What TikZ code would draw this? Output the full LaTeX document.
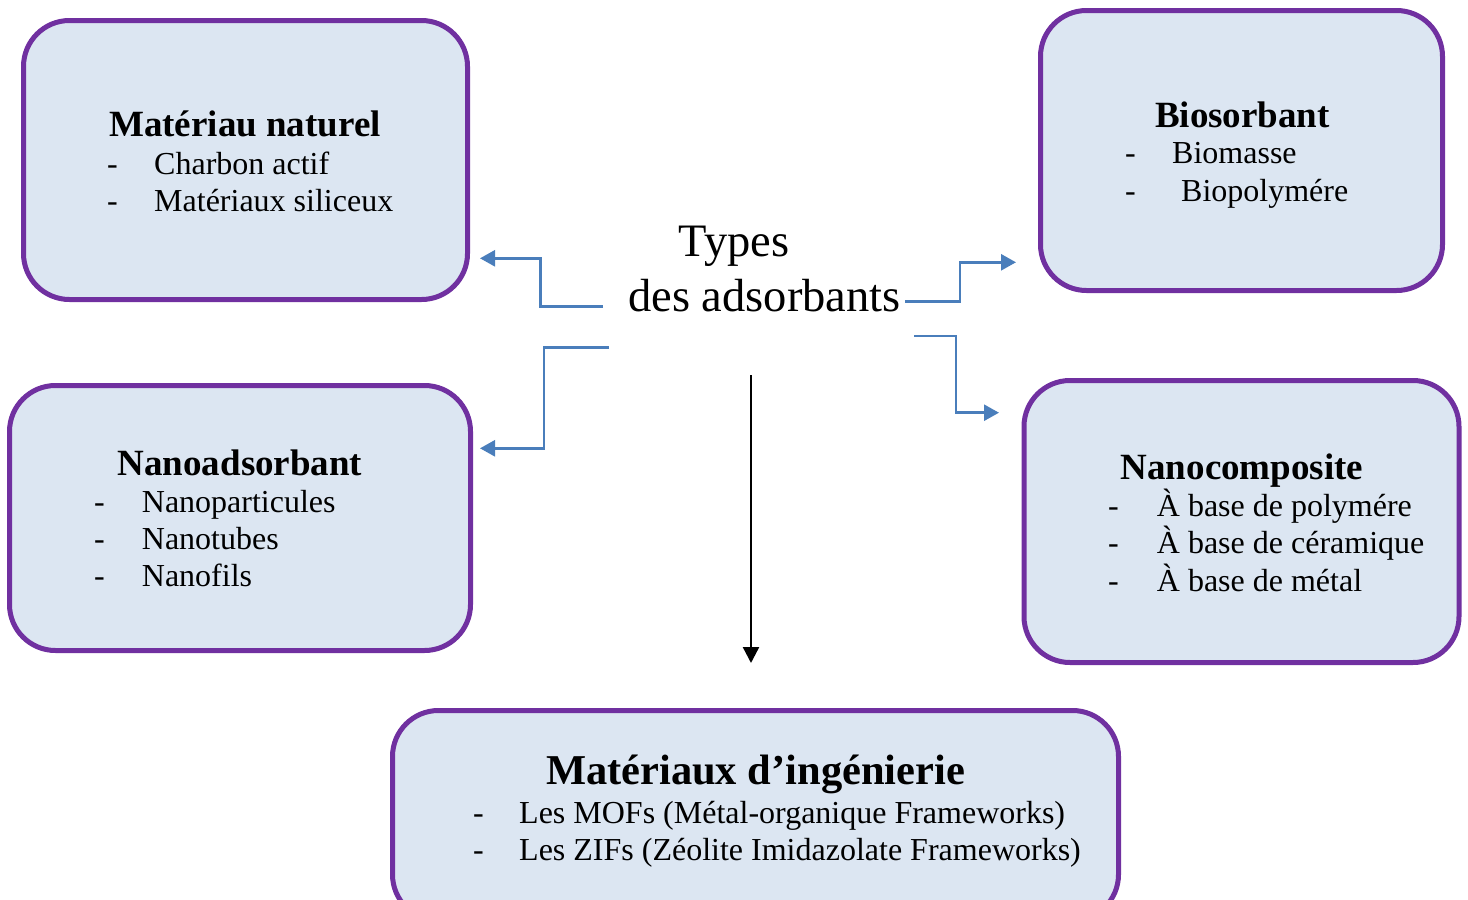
\documentclass[tikz,border=0pt]{standalone}
\usepackage{fontspec}
\setmainfont{Liberation Serif}
\usetikzlibrary{arrows.meta}
\definecolor{boxfill}{HTML}{DCE6F2}
\definecolor{boxline}{HTML}{7030A0}
\definecolor{conncol}{HTML}{4A7EBB}
\tikzset{
  box/.style={draw=boxline, fill=boxfill, line width=5pt, rounded corners=46pt, rectangle, inner sep=0pt},
  ttl/.style={anchor=base, inner sep=0pt, font=\bfseries\fontsize{37}{44}\selectfont},
  bigttl/.style={anchor=base, inner sep=0pt, font=\bfseries\fontsize{42.5}{50}\selectfont},
  itm/.style={anchor=base west, inner sep=0pt, font=\fontsize{32}{38}\selectfont},
  ctr/.style={anchor=base, inner sep=0pt, font=\fontsize{46.5}{55}\selectfont},
  conn/.style={draw=conncol, line width=2.6pt, -{Triangle[length=15pt,width=16pt]}},
  blk/.style={draw=black, line width=2.4pt, -{Triangle[length=16pt,width=16pt]}}
}
\begin{document}
\begin{tikzpicture}[x=1pt,y=-1pt]
\useasboundingbox (0,0) rectangle (1468,900);
\begin{scope}
\clip (0,0) rectangle (1468,900);
% boxes
\node[box, minimum width=444pt, minimum height=279pt] (nat) at (245.5,160) {};
\node[box, minimum width=402pt, minimum height=280pt] (bio) at (1241.5,150.5) {};
\node[box, minimum width=461pt, minimum height=265pt] (nad) at (240,518) {};
\node[box, minimum width=435pt, minimum height=282pt] (ncp) at (1241.5,521.5) {};
\node[box, minimum width=726pt, minimum height=210pt] (ing) at (755.5,815.5) {};
\end{scope}
% Matériau naturel
\node[ttl] (natt) at (245,136) {Matériau naturel};
\node[itm] (natd1) at (107,174) {-};
\node[itm] (nati1) at (154,174) {Charbon actif};
\node[itm] (natd2) at (107,211.7) {-};
\node[itm] (nati2) at (154,211.7) {Matériaux siliceux};
% Biosorbant
\node[ttl] (biot) at (1242.5,127) {Biosorbant};
\node[itm] (biod1) at (1125,163.3) {-};
\node[itm] (bioi1) at (1172,163.3) {Biomasse};
\node[itm] (biod2) at (1125,201.7) {-};
\node[itm] (bioi2) at (1181,201.7) {Biopolymére};
% Nanoadsorbant
\node[ttl] (nadt) at (240,475) {Nanoadsorbant};
\node[itm] (nadd1) at (94,512.7) {-};
\node[itm] (nadi1) at (141.7,512.7) {Nanoparticules};
\node[itm] (nadd2) at (94,549.3) {-};
\node[itm] (nadi2) at (141.7,549.3) {Nanotubes};
\node[itm] (nadd3) at (94,586.7) {-};
\node[itm] (nadi3) at (141.7,586.7) {Nanofils};
% Nanocomposite
\node[ttl] (ncpt) at (1242,479.5) {Nanocomposite};
\node[itm] (ncpd1) at (1108,516.7) {-};
\node[itm] (ncpi1) at (1156.7,516.7) {À base de polymére};
\node[itm] (ncpd2) at (1108,553.3) {-};
\node[itm] (ncpi2) at (1156.7,553.3) {À base de céramique};
\node[itm] (ncpd3) at (1108,591.7) {-};
\node[itm] (ncpi3) at (1156.7,591.7) {À base de métal};
% Matériaux d'ingénierie
\node[bigttl] (ingt) at (755.5,784) {Matériaux d’ingénierie};
\node[itm] (ingd1) at (473,823) {-};
\node[itm] (ingi1) at (519,823) {Les MOFs (Métal-organique Frameworks)};
\node[itm] (ingd2) at (473,860) {-};
\node[itm] (ingi2) at (519,860) {Les ZIFs (Zéolite Imidazolate Frameworks)};
% centre
\node[ctr] (types1) at (734,256.5) {Types};
\node[ctr] (types2) at (764.5,311.5) {des adsorbants};
% connector ends
\coordinate (s1) at (603,306.7);
\coordinate (e1) at (480,258.3);
\coordinate (s2) at (609,347.7);
\coordinate (e2) at (480,448.3);
\coordinate (s3) at (905,301.7);
\coordinate (e3) at (1016,262.3);
\coordinate (s4) at (914,336);
\coordinate (e4) at (999,412.7);
\coordinate (s5) at (751,375);
\coordinate (e5) at (751,663);
\draw[conn] (s1) -- ++(-62.3,0) |- (e1);
\draw[conn] (s2) -- ++(-65,0) |- (e2);
\draw[conn] (s3) -- ++(55,0) |- (e3);
\draw[conn] (s4) -- ++(42,0) |- (e4);
\draw[blk] (s5) -- (e5);
\end{tikzpicture}
\end{document}
